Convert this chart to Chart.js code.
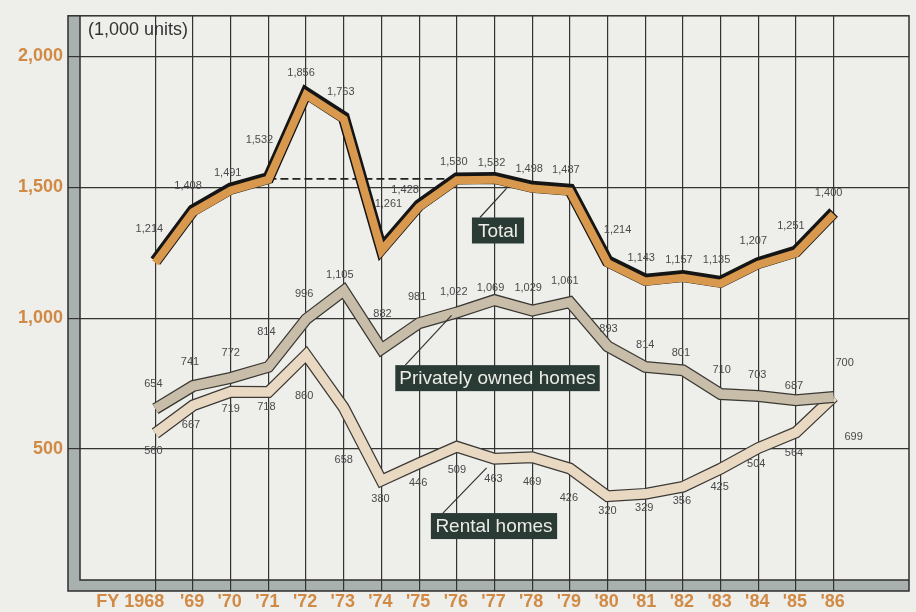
<!DOCTYPE html>
<html><head><meta charset="utf-8">
<script src="https://cdn.jsdelivr.net/npm/chart.js@4.4.1/dist/chart.umd.min.js"></script>
<style>html,body{margin:0;padding:0;background:#eeeeea;overflow:hidden}#wrap{width:916px;height:612px}</style>
</head><body><div id="wrap"><canvas id="c" width="916" height="612"></canvas></div>
<script>
// ---- data ----
const years = ["FY 1968","'69","'70","'71","'72","'73","'74","'75","'76","'77","'78","'79","'80","'81","'82","'83","'84","'85","'86"];
const total = [1214,1408,1491,1532,1856,1763,1261,1428,1530,1532,1498,1487,1214,1143,1157,1135,1207,1251,1400];
const privateOwned = [654,741,772,814,996,1105,882,981,1022,1069,1029,1061,893,814,801,710,703,687,699];
const rental = [560,667,719,718,860,658,380,446,509,463,469,426,320,329,356,425,504,564,700];
const yTicks = [500,1000,1500,2000];
const unitLabel = "(1,000 units)";

// ---- label placement (pixel offsets from each point) ----
const totalOff = [[-6,-33],[-5,-25],[-3,-17],[-9,-39],[-5,-21],[-3,-26],[7,-46],[-14,-16],[-3,-17],[-3,-16],[-3,-19],[-4,-21],[10,-32],[-4,-23],[-4,-17],[-4,-23],[-5,-23],[-5,-27],[-5,-20]];
const privOff = [[-2,-25],[-3,-24],[0,-25],[-2,-35],[-2,-25],[-4,-16],[1,-35],[-2,-26],[-3,-20],[-4,-12],[-4,-23],[-5,-21],[1,-17],[0,-22],[-2,-17],[1,-24],[-1,-21],[-2,-14],[20,40]];
const rentOff = [[-2,18],[-2,20],[0,17],[-2,15],[-2,41],[0,52],[-1,18],[-1,20],[0,23],[-1,20],[0,25],[-1,29],[0,15],[-1,14],[-1,14],[-1,18],[-2,16],[-2,21],[11,-34]];

// series name boxes: centre and leader end in data coordinates
const boxes = [
  {text:"Total", cx:9.093, cy:1335, lx:9.32, ly:1496, startDx:8, pad:6},
  {text:"Privately owned homes", cx:9.08, cy:771, lx:7.86, ly:1011, startDx:10, pad:4},
  {text:"Rental homes", cx:8.987, cy:206, lx:8.79, ly:428, startDx:12, pad:4.5}
];

const FONT = "'Liberation Sans', Arial, Helvetica, sans-serif";
const ORANGE_TXT = '#d18a45';
const pts = arr => arr.map((v,i)=>({x:i,y:v}));
const fmt = v => v.toLocaleString('en-US');

const framePlugin = {
  id:'frame',
  beforeDraw(chart){
    const {ctx, chartArea:a} = chart;
    ctx.save();
    ctx.fillStyle = '#eeeeea';
    ctx.fillRect(0,0,chart.width,chart.height);
    ctx.fillStyle = '#a9b1ae';
    ctx.fillRect(68, a.top, a.left-68, 591-a.top);
    ctx.fillRect(68, a.bottom, a.right-68, 591-a.bottom);
    ctx.restore();
  },
  beforeDatasetsDraw(chart){
    const {ctx, chartArea:a} = chart;
    ctx.save();
    ctx.strokeStyle = '#2e2e2e';
    ctx.lineWidth = 1.5;
    ctx.strokeRect(68, a.top, a.right-68, 591-a.top);
    ctx.beginPath();
    ctx.moveTo(a.left, a.top); ctx.lineTo(a.left, a.bottom); ctx.lineTo(a.right, a.bottom);
    ctx.stroke();
    ctx.restore();
  },
  beforeDatasetDraw(chart, args){
    const ds = chart.data.datasets[args.index];
    chart.ctx.save();
    if (ds.shift) chart.ctx.translate(ds.shift[0], ds.shift[1]);
  },
  afterDatasetDraw(chart){ chart.ctx.restore(); },
  afterDatasetsDraw(chart){
    const {ctx, scales:{x,y}} = chart;
    ctx.save();
    // value labels
    ctx.font = '11px ' + FONT;
    ctx.fillStyle = '#4a4a4a';
    ctx.textAlign = 'center';
    ctx.textBaseline = 'middle';
    const lab = (arr, off) => arr.forEach((v,i)=>{
      ctx.fillText(fmt(v), x.getPixelForValue(i)+off[i][0], y.getPixelForValue(v)+off[i][1]);
    });
    lab(total,totalOff); lab(privateOwned,privOff); lab(rental,rentOff);
    // name boxes
    ctx.font = '19px ' + FONT;
    boxes.forEach(b=>{
      const w = ctx.measureText(b.text).width + 2*b.pad, h = 26;
      const cx = x.getPixelForValue(b.cx), cy = y.getPixelForValue(b.cy);
      const left = cx - w/2, top = cy - h/2;
      ctx.strokeStyle = '#333'; ctx.lineWidth = 1.2;
      ctx.beginPath();
      ctx.moveTo(left+b.startDx, top);
      ctx.lineTo(x.getPixelForValue(b.lx), y.getPixelForValue(b.ly));
      ctx.stroke();
      ctx.fillStyle = '#2a3a34';
      ctx.fillRect(left, top, w, h);
      ctx.fillStyle = '#ecece6';
      ctx.fillText(b.text, cx, cy+1);
    });
    // x labels
    ctx.font = 'bold 18px ' + FONT;
    ctx.fillStyle = ORANGE_TXT;
    years.forEach((t,i)=>{
      const px = x.getPixelForValue(i);
      if (i===0){ ctx.textAlign='right'; ctx.fillText(t, px+9, 602); }
      else { ctx.textAlign='center'; ctx.fillText(t, px-1, 602); }
    });
    // unit label
    ctx.font = '18px ' + FONT;
    ctx.fillStyle = '#333';
    ctx.textAlign = 'left';
    ctx.fillText(unitLabel, 88, 30);
    ctx.restore();
  }
};

const ribbon = (data, color, width, order, shift) => ({
  data, borderColor:color, borderWidth:width, order, shift,
  pointRadius:0, tension:0, fill:false, borderJoinStyle:'miter', borderCapStyle:'butt'
});

new Chart(document.getElementById('c'), {
  type:'line',
  data:{ datasets:[
    {data:[{x:3,y:total[3]},{x:8,y:total[3]}], borderColor:'#222', borderWidth:1.6, borderDash:[8,4], pointRadius:0, order:20, fill:false},
    ribbon(pts(rental), '#3c3a36', 12, 9),
    ribbon(pts(rental), '#ead9c2', 9.5, 8),
    ribbon(pts(privateOwned), '#3a3834', 12, 7),
    ribbon(pts(privateOwned), '#c8bda8', 9.5, 6),
    ribbon(pts(total), '#151515', 12, 5, [0,-1]),
    ribbon(pts(total), '#d8984d', 8, 4, [0,0.8])
  ]},
  options:{
    responsive:false, animation:false, devicePixelRatio:1,
    layout:{padding:{top:11,right:7,left:0,bottom:0}},
    plugins:{legend:{display:false}, tooltip:{enabled:false}},
    scales:{
      x:{type:'linear', min:-2, max:20,
         afterBuildTicks:s=>{s.ticks = years.map((_,i)=>({value:i}));},
         afterFit:s=>{s.height = 32;},
         ticks:{display:false},
         grid:{color:'#333', lineWidth:1.2, tickLength:11, drawTicks:true},
         border:{display:false}},
      y:{type:'linear', min:0, max:2155,
         afterBuildTicks:s=>{s.ticks = yTicks.map(v=>({value:v}));},
         afterFit:s=>{s.width = 80;},
         ticks:{color:ORANGE_TXT, font:{family:FONT, size:18, weight:'bold'}, padding:5, callback:v=>fmt(v)},
         grid:{color:'#333', lineWidth:1.2, tickLength:12, drawTicks:true},
         border:{display:false}}
    }
  },
  plugins:[framePlugin]
});
</script></body></html>
